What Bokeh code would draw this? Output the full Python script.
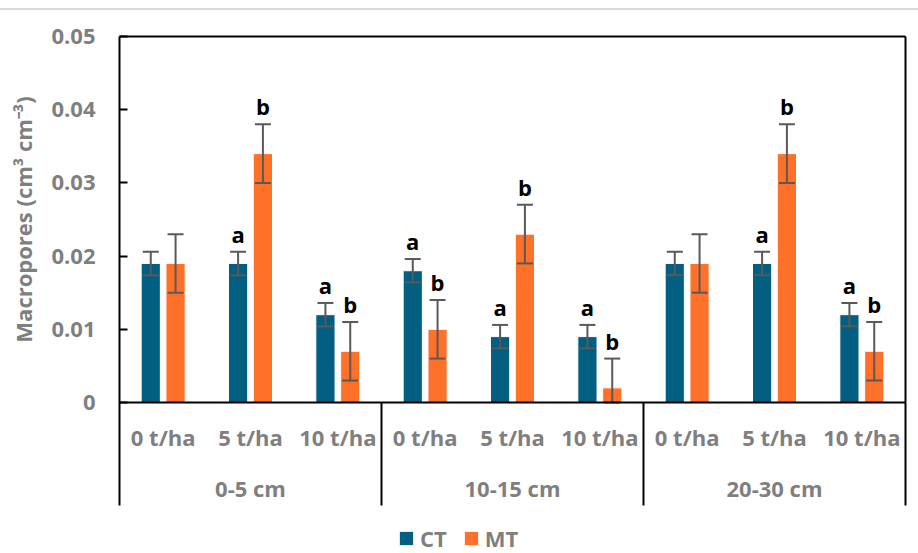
from math import pi

from bokeh.core.properties import value
from bokeh.embed import file_html
from bokeh.layouts import column, row
from bokeh.models import (ColumnDataSource, Div, FixedTicker, Legend,
                          LegendItem, LinearAxis, Range1d, Span, TeeHead,
                          Whisker)
from bokeh.plotting import figure
from bokeh.resources import INLINE

# ---- data -------------------------------------------------------------
depths = ["0-5 cm", "10-15 cm", "20-30 cm"]
doses = ["0 t/ha", "5 t/ha", "10 t/ha"]

ct_mean = [0.019, 0.019, 0.012, 0.018, 0.009, 0.009, 0.019, 0.019, 0.012]
ct_err = [0.0016, 0.0016, 0.0016, 0.0016, 0.0016, 0.0016, 0.0016, 0.0016, 0.0016]
ct_letters = ["", "a", "a", "a", "a", "a", "", "a", "a"]

mt_mean = [0.019, 0.034, 0.007, 0.010, 0.023, 0.002, 0.019, 0.034, 0.007]
mt_err = [0.004, 0.004, 0.004, 0.004, 0.004, 0.004, 0.004, 0.004, 0.004]
mt_letters = ["", "b", "b", "b", "b", "b", "", "b", "b"]

y_ticks = [0, 0.01, 0.02, 0.03, 0.04, 0.05]
y_tick_labels = ["0", "0.01", "0.02", "0.03", "0.04", "0.05"]
y_title = "Macropores (cm³ cm⁻³)"

# ---- styling ----------------------------------------------------------
CT_COLOR = "#035F82"
MT_COLOR = "#FF7128"
GREY = "#7f7f7f"
ERR_COLOR = "#595959"
FONT_NAME = "Open Sans"
FONT = value(FONT_NAME)
FS = "22px"

n_cat = len(depths) * len(doses)
y_top = 0.05
px_per_unit = 366 / y_top          # 0 .. 0.05 spans 366 px
band_px = 103                      # category band under the zero line
frame_below_px = 151               # frame continues down to hold the legend
band_bottom = -band_px / px_per_unit
y_bottom = -frame_below_px / px_per_unit

bar_w = 0.22
shift = 0.142

centers = [i + 0.5 for i in range(n_cat)]


def series(mean, err, letters, offset):
    x = [c + offset for c in centers]
    return ColumnDataSource(dict(
        x=x,
        top=mean,
        upper=[m + e for m, e in zip(mean, err)],
        lower=[max(0.0, m - e) for m, e in zip(mean, err)],
        letter=letters,
    ))


ct_src = series(ct_mean, ct_err, ct_letters, -shift)
mt_src = series(mt_mean, mt_err, mt_letters, shift)

y_range = Range1d(y_bottom, y_top)

p = figure(
    frame_width=786, frame_height=517,
    x_range=Range1d(0, n_cat), y_range=y_range,
    output_backend="svg", toolbar_location=None,
    x_axis_location=None,
    min_border_left=79, min_border_right=13,
    min_border_top=26, min_border_bottom=0,
    background_fill_color="white", border_fill_color="white",
)
p.outline_line_color = None
p.grid.visible = False

# left value axis, its line running down through the category band
ya = p.yaxis[0]
ya.bounds = (band_bottom, y_top)
ya.ticker = FixedTicker(ticks=y_ticks)
ya.major_label_overrides = {t: s for t, s in zip(y_ticks, y_tick_labels)}
ya.major_tick_in = 8
ya.major_tick_out = 0
ya.major_tick_line_width = 2
ya.major_tick_line_color = "black"
ya.minor_tick_line_color = None
ya.axis_line_width = 2
ya.axis_line_color = "black"
ya.major_label_standoff = 24
ya.major_label_text_font = FONT_NAME
ya.major_label_text_font_style = "bold"
ya.major_label_text_font_size = FS
ya.major_label_text_color = GREY

# plain frame lines on top and right
top_ax = LinearAxis(ticker=FixedTicker(ticks=[]), axis_line_width=2,
                    axis_line_color="black", major_tick_line_color=None,
                    minor_tick_line_color=None, major_tick_out=0,
                    major_label_standoff=0, major_label_text_font_size="0px")
p.add_layout(top_ax, "above")
right_ax = LinearAxis(ticker=FixedTicker(ticks=[]), bounds=(band_bottom, y_top),
                      axis_line_width=2, axis_line_color="black",
                      major_tick_line_color=None, minor_tick_line_color=None,
                      major_tick_out=0, major_label_standoff=0,
                      major_label_text_font_size="0px")
p.add_layout(right_ax, "right")

# bars
ct_r = p.vbar(x="x", top="top", width=bar_w, source=ct_src,
              fill_color=CT_COLOR, line_color="white", line_width=1)
mt_r = p.vbar(x="x", top="top", width=bar_w, source=mt_src,
              fill_color=MT_COLOR, line_color="white", line_width=1)

# error bars, drawn over the bars
for src in (ct_src, mt_src):
    p.add_layout(Whisker(
        source=src, base="x", upper="upper", lower="lower",
        level="annotation",
        line_color=ERR_COLOR, line_width=2,
        upper_head=TeeHead(size=16, line_color=ERR_COLOR, line_width=2),
        lower_head=TeeHead(size=16, line_color=ERR_COLOR, line_width=2),
    ))

# zero line
p.add_layout(Span(location=0, dimension="width", line_color="black",
                  line_width=2, level="annotation"))

# significance letters
for src in (ct_src, mt_src):
    p.text(x="x", y="upper", text="letter", source=src,
           text_font=FONT, text_font_style="bold", text_font_size=FS,
           text_color="black", text_align="center",
           text_baseline="bottom", y_offset=-3)

# group separators in the category band
bounds = [k * len(doses) for k in range(1, len(depths))]
p.segment(x0=bounds, y0=[0] * len(bounds), x1=bounds,
          y1=[band_bottom] * len(bounds), line_color="black", line_width=2)

# category labels
dose_labels = [d for _ in depths for d in doses]
p.text(x=centers, y=[0] * n_cat, text=dose_labels,
       text_font=FONT, text_font_style="bold", text_font_size=FS,
       text_color=GREY, text_align="center", text_baseline="middle",
       y_offset=34)
group_x = [k * len(doses) + len(doses) / 2 for k in range(len(depths))]
p.text(x=group_x, y=[0] * len(depths), text=depths,
       text_font=FONT, text_font_style="bold", text_font_size=FS,
       text_color=GREY, text_align="center", text_baseline="middle",
       y_offset=85)

# legend under the chart
legend = Legend(
    items=[LegendItem(label="CT", renderers=[ct_r]),
           LegendItem(label="MT", renderers=[mt_r])],
    orientation="horizontal", location=(278, 0),
    glyph_width=18, glyph_height=18, label_standoff=5, spacing=15,
    padding=0, margin=0, border_line_color=None, background_fill_alpha=0,
    label_text_font=FONT_NAME, label_text_font_style="bold",
    label_text_font_size=FS, label_text_color=GREY,
)
p.add_layout(legend)

# value-axis title, centred on the 0 .. 0.05 span
title_fig = figure(
    frame_width=40, frame_height=517,
    x_range=Range1d(0, 1), y_range=y_range,
    output_backend="svg", toolbar_location=None,
    x_axis_location=None, y_axis_location=None,
    min_border_left=0, min_border_right=0,
    min_border_top=26, min_border_bottom=0,
    background_fill_color="white", border_fill_color="white",
)
title_fig.outline_line_color = None
title_fig.grid.visible = False
title_fig.text(x=[0.55], y=[(y_ticks[0] + y_ticks[-1]) / 2], text=[y_title],
               angle=pi / 2, text_font=FONT, text_font_style="bold",
               text_font_size=FS, text_color=GREY,
               text_align="center", text_baseline="middle")

top_rule = Div(text="", width=918, height=10, margin=0,
               styles={"border-bottom": "2px solid #d9d9d9",
                       "box-sizing": "border-box"})

layout = column(top_rule, row(title_fig, p, spacing=0), spacing=0)
open("out.html", "w").write(file_html(layout, INLINE))
